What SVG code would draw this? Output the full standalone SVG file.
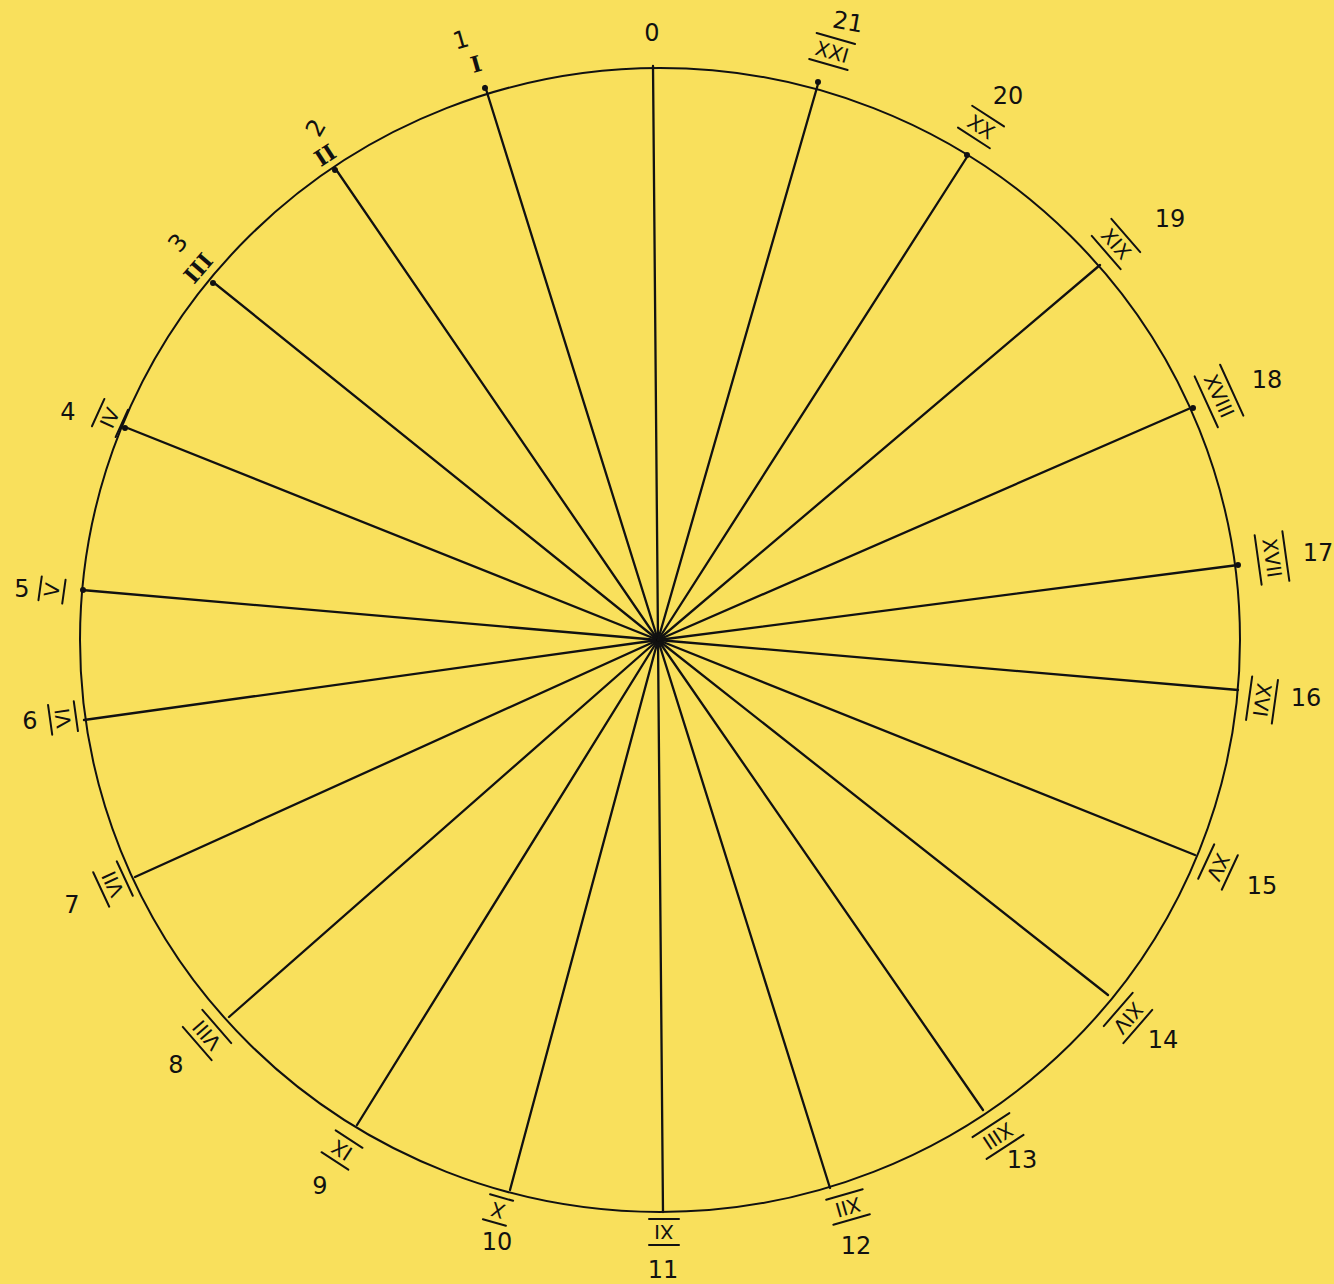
<svg xmlns="http://www.w3.org/2000/svg" width="1334" height="1284" viewBox="0 0 1334 1284">
<style>
.sp{stroke:#111;stroke-width:2.3;fill:none;stroke-linecap:round}
.rim{stroke:#111;stroke-width:2;fill:none}
.num{font-family:"DejaVu Sans","Liberation Sans",sans-serif;font-size:24px;fill:#111;text-anchor:middle;dominant-baseline:central}
.rom{font-family:"DejaVu Sans","Liberation Sans",sans-serif;font-size:20px;fill:#111;text-anchor:middle;dominant-baseline:central}
.roms{font-family:"DejaVu Serif","Liberation Serif",serif;font-size:22px;font-weight:bold;fill:#111;text-anchor:middle;dominant-baseline:central}
.bar{stroke:#111;stroke-width:2;stroke-linecap:round}
.dot{fill:#111}
</style>
<rect width="1334" height="1284" fill="#F9E05C"/>
<g id="rim"><ellipse class="rim" cx="660" cy="640" rx="580" ry="572"/></g>
<g id="connectors">
<line class="sp" x1="658" y1="640" x2="653" y2="66"/>
<line class="sp" x1="658" y1="640" x2="485" y2="86"/>
<line class="sp" x1="658" y1="640" x2="335" y2="168"/>
<line class="sp" x1="658" y1="640" x2="213" y2="282"/>
<line class="sp" x1="658" y1="640" x2="125" y2="427"/>
<line class="sp" x1="658" y1="640" x2="82" y2="590"/>
<line class="sp" x1="658" y1="640" x2="84" y2="720"/>
<line class="sp" x1="658" y1="640" x2="135" y2="877"/>
<line class="sp" x1="658" y1="640" x2="229" y2="1017"/>
<line class="sp" x1="658" y1="640" x2="357" y2="1125"/>
<line class="sp" x1="658" y1="640" x2="510" y2="1190"/>
<line class="sp" x1="658" y1="640" x2="663" y2="1212"/>
<line class="sp" x1="658" y1="640" x2="830" y2="1188"/>
<line class="sp" x1="658" y1="640" x2="983" y2="1110"/>
<line class="sp" x1="658" y1="640" x2="1108" y2="995"/>
<line class="sp" x1="658" y1="640" x2="1195" y2="855"/>
<line class="sp" x1="658" y1="640" x2="1238" y2="690"/>
<line class="sp" x1="658" y1="640" x2="1238" y2="565"/>
<line class="sp" x1="658" y1="640" x2="1193" y2="407"/>
<line class="sp" x1="658" y1="640" x2="1100" y2="265"/>
<line class="sp" x1="658" y1="640" x2="967" y2="157"/>
<line class="sp" x1="658" y1="640" x2="818" y2="84"/>
<circle class="dot" cx="485" cy="88" r="3"/>
<circle class="dot" cx="335" cy="170" r="3"/>
<circle class="dot" cx="213" cy="283" r="3"/>
<circle class="dot" cx="125" cy="428" r="3"/>
<circle class="dot" cx="83" cy="590" r="3"/>
<circle class="dot" cx="967" cy="155" r="3"/>
<circle class="dot" cx="818" cy="82" r="3"/>
<circle class="dot" cx="1193" cy="408" r="3"/>
<circle class="dot" cx="1238" cy="565" r="3"/>
</g>
<g id="n0"><text class="num" x="652" y="33">0</text></g>
<g id="n1"><text class="num" transform="translate(461,40) rotate(-16)">1</text><text class="roms" transform="translate(476,64) rotate(-16)">I</text></g>
<g id="n2"><text class="num" transform="translate(316,128) rotate(-60)">2</text><text class="roms" transform="translate(325,155) rotate(-33)">II</text></g>
<g id="n3"><text class="num" transform="translate(178,243) rotate(-50)">3</text><text class="roms" transform="translate(198,268) rotate(-49)">III</text></g>
<g id="n4"><text class="num" x="68" y="412">4</text><g transform="translate(110,418) rotate(-65.5)"><text class="rom">IV</text><line class="bar" x1="-15" y1="-13" x2="15" y2="-13"/><line class="bar" x1="-15" y1="13" x2="15" y2="13"/></g></g>
<g id="n5"><text class="num" x="22" y="589">5</text><g transform="translate(52,590) rotate(-82)"><text class="rom">V</text><line class="bar" x1="-12" y1="-12" x2="12" y2="-12"/><line class="bar" x1="-12" y1="12" x2="12" y2="12"/></g></g>
<g id="n6"><text class="num" x="30" y="721">6</text><g transform="translate(63,718) rotate(-98)"><text class="rom">VI</text><line class="bar" x1="-15" y1="-13" x2="15" y2="-13"/><line class="bar" x1="-15" y1="13" x2="15" y2="13"/></g></g>
<g id="n7"><text class="num" x="72" y="905">7</text><g transform="translate(113,884) rotate(-115)"><text class="rom">VII</text><line class="bar" x1="-19" y1="-13" x2="19" y2="-13"/><line class="bar" x1="-19" y1="13" x2="19" y2="13"/></g></g>
<g id="n8"><text class="num" x="176" y="1065">8</text><g transform="translate(207,1035) rotate(-131)"><text class="rom">VIII</text><line class="bar" x1="-22" y1="-13" x2="22" y2="-13"/><line class="bar" x1="-22" y1="13" x2="22" y2="13"/></g></g>
<g id="n9"><text class="num" x="320" y="1186">9</text><g transform="translate(342,1150) rotate(-147)"><text class="rom">IX</text><line class="bar" x1="-16" y1="-13" x2="16" y2="-13"/><line class="bar" x1="-16" y1="13" x2="16" y2="13"/></g></g>
<g id="n10"><text class="num" x="497" y="1242">10</text><g transform="translate(498,1210) rotate(-164)"><text class="rom">X</text><line class="bar" x1="-12" y1="-13" x2="12" y2="-13"/><line class="bar" x1="-12" y1="13" x2="12" y2="13"/></g></g>
<g id="n11"><text class="num" x="663" y="1270">11</text><g transform="translate(664,1232) rotate(180)"><text class="rom">XI</text><line class="bar" x1="-15" y1="-13" x2="15" y2="-13"/><line class="bar" x1="-15" y1="13" x2="15" y2="13"/></g></g>
<g id="n12"><text class="num" x="856" y="1246">12</text><g transform="translate(848,1207) rotate(164)"><text class="rom">XII</text><line class="bar" x1="-19" y1="-13" x2="19" y2="-13"/><line class="bar" x1="-19" y1="13" x2="19" y2="13"/></g></g>
<g id="n13"><text class="num" x="1022" y="1160">13</text><g transform="translate(998,1136) rotate(147)"><text class="rom">XIII</text><line class="bar" x1="-22" y1="-13" x2="22" y2="-13"/><line class="bar" x1="-22" y1="13" x2="22" y2="13"/></g></g>
<g id="n14"><text class="num" x="1163" y="1040">14</text><g transform="translate(1128,1018) rotate(131)"><text class="rom">XIV</text><line class="bar" x1="-22" y1="-13" x2="22" y2="-13"/><line class="bar" x1="-22" y1="13" x2="22" y2="13"/></g></g>
<g id="n15"><text class="num" x="1262" y="886">15</text><g transform="translate(1218,867) rotate(115)"><text class="rom">XV</text><line class="bar" x1="-19" y1="-13" x2="19" y2="-13"/><line class="bar" x1="-19" y1="13" x2="19" y2="13"/></g></g>
<g id="n16"><text class="num" x="1306" y="698">16</text><g transform="translate(1262,700) rotate(98)"><text class="rom">XVI</text><line class="bar" x1="-22" y1="-13" x2="22" y2="-13"/><line class="bar" x1="-22" y1="13" x2="22" y2="13"/></g></g>
<g id="n17"><text class="num" x="1318" y="553">17</text><g transform="translate(1272,558) rotate(82)"><text class="rom">XVII</text><line class="bar" x1="-25" y1="-14" x2="25" y2="-14"/><line class="bar" x1="-25" y1="14" x2="25" y2="14"/></g></g>
<g id="n18"><text class="num" x="1267" y="380">18</text><g transform="translate(1219,396) rotate(65.5)"><text class="rom">XVIII</text><line class="bar" x1="-28" y1="-14" x2="28" y2="-14"/><line class="bar" x1="-28" y1="14" x2="28" y2="14"/></g></g>
<g id="n19"><text class="num" x="1170" y="219">19</text><g transform="translate(1116,244) rotate(49)"><text class="rom">XIX</text><line class="bar" x1="-22" y1="-13" x2="22" y2="-13"/><line class="bar" x1="-22" y1="13" x2="22" y2="13"/></g></g>
<g id="n20"><text class="num" x="1008" y="96">20</text><g transform="translate(981,127) rotate(33)"><text class="rom">XX</text><line class="bar" x1="-19" y1="-13" x2="19" y2="-13"/><line class="bar" x1="-19" y1="13" x2="19" y2="13"/></g></g>
<g id="n21"><g transform="translate(832,52) rotate(16)"><text class="rom">XXI</text><line class="bar" x1="-20" y1="-14" x2="20" y2="-14"/><line class="bar" x1="-20" y1="13" x2="20" y2="13"/></g><text class="num" transform="translate(848,22) rotate(10)">21</text></g>
</svg>
